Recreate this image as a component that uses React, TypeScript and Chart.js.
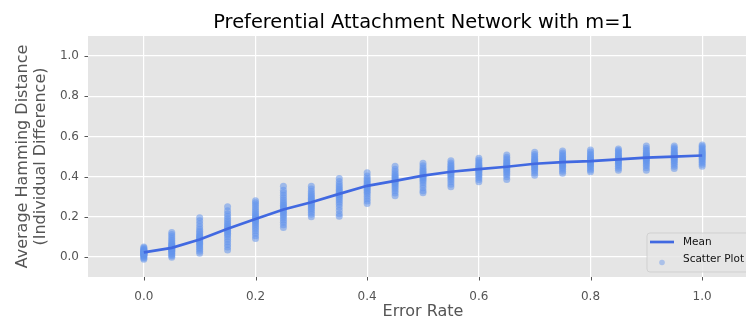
import React, { useEffect, useRef } from 'react';
import { Chart, registerables } from 'chart.js';

Chart.register(...registerables);

// Error rates at which the network was simulated
const errorRates = [0, 0.05, 0.1, 0.15, 0.2, 0.25, 0.3, 0.35, 0.4, 0.45, 0.5, 0.55, 0.6, 0.65, 0.7, 0.75, 0.8, 0.85, 0.9, 0.95, 1.0];

// Mean Hamming distance per error rate
const meanDistance = [0.023, 0.045, 0.087, 0.14, 0.189, 0.236, 0.272, 0.314, 0.354, 0.379, 0.405, 0.424, 0.437, 0.449, 0.464, 0.472, 0.477, 0.486, 0.494, 0.499, 0.505];

// Individual runs per error rate
const runs000 = [-0.012, -0.005, 0.0, 0.004, 0.008, 0.01, 0.012, 0.014, 0.016, 0.018, 0.02, 0.022, 0.024, 0.026, 0.028, 0.03, 0.033, 0.036, 0.04, 0.045, 0.05];
const runs005 = [-0.002, 0.006, 0.012, 0.018, 0.024, 0.028, 0.032, 0.036, 0.04, 0.043, 0.046, 0.05, 0.054, 0.058, 0.063, 0.068, 0.075, 0.083, 0.092, 0.102, 0.112, 0.122];
const runs010 = [0.018, 0.028, 0.038, 0.046, 0.054, 0.062, 0.068, 0.074, 0.08, 0.085, 0.09, 0.095, 0.1, 0.106, 0.112, 0.12, 0.128, 0.138, 0.15, 0.165, 0.18, 0.195];
const runs015 = [0.035, 0.05, 0.062, 0.075, 0.088, 0.1, 0.11, 0.118, 0.126, 0.133, 0.14, 0.147, 0.154, 0.162, 0.17, 0.18, 0.19, 0.202, 0.215, 0.23, 0.25];
const runs020 = [0.092, 0.105, 0.118, 0.13, 0.142, 0.152, 0.162, 0.17, 0.177, 0.184, 0.19, 0.196, 0.203, 0.21, 0.218, 0.227, 0.237, 0.248, 0.26, 0.27, 0.28];
const runs025 = [0.147, 0.16, 0.172, 0.184, 0.195, 0.205, 0.214, 0.222, 0.229, 0.236, 0.243, 0.25, 0.257, 0.265, 0.274, 0.284, 0.295, 0.307, 0.32, 0.332, 0.352];
const runs030 = [0.2, 0.212, 0.222, 0.232, 0.241, 0.249, 0.256, 0.262, 0.268, 0.274, 0.28, 0.286, 0.292, 0.299, 0.307, 0.316, 0.326, 0.338, 0.352];
const runs035 = [0.203, 0.215, 0.232, 0.248, 0.262, 0.274, 0.284, 0.293, 0.301, 0.308, 0.315, 0.322, 0.329, 0.336, 0.344, 0.353, 0.363, 0.375, 0.39];
const runs040 = [0.266, 0.278, 0.29, 0.302, 0.313, 0.322, 0.33, 0.337, 0.344, 0.35, 0.356, 0.362, 0.368, 0.375, 0.383, 0.392, 0.403, 0.419];
const runs045 = [0.305, 0.318, 0.33, 0.341, 0.35, 0.358, 0.365, 0.371, 0.377, 0.382, 0.388, 0.394, 0.4, 0.407, 0.415, 0.425, 0.437, 0.452];
const runs050 = [0.319, 0.33, 0.345, 0.358, 0.37, 0.38, 0.388, 0.395, 0.401, 0.407, 0.413, 0.419, 0.426, 0.434, 0.443, 0.454, 0.466];
const runs055 = [0.349, 0.362, 0.374, 0.385, 0.395, 0.403, 0.41, 0.416, 0.422, 0.427, 0.432, 0.438, 0.444, 0.451, 0.459, 0.468, 0.479];
const runs060 = [0.374, 0.385, 0.395, 0.404, 0.412, 0.419, 0.425, 0.43, 0.435, 0.44, 0.445, 0.451, 0.457, 0.464, 0.472, 0.481, 0.491];
const runs065 = [0.386, 0.399, 0.41, 0.419, 0.427, 0.434, 0.44, 0.445, 0.45, 0.455, 0.46, 0.466, 0.472, 0.479, 0.487, 0.496, 0.507];
const runs070 = [0.407, 0.418, 0.428, 0.436, 0.443, 0.449, 0.455, 0.46, 0.465, 0.47, 0.475, 0.48, 0.486, 0.493, 0.501, 0.51, 0.521];
const runs075 = [0.416, 0.427, 0.436, 0.444, 0.451, 0.457, 0.463, 0.468, 0.473, 0.478, 0.483, 0.488, 0.494, 0.501, 0.509, 0.517, 0.527];
const runs080 = [0.424, 0.433, 0.442, 0.45, 0.457, 0.463, 0.468, 0.473, 0.478, 0.483, 0.488, 0.493, 0.499, 0.506, 0.513, 0.522, 0.532];
const runs085 = [0.432, 0.442, 0.451, 0.459, 0.466, 0.472, 0.477, 0.482, 0.487, 0.492, 0.497, 0.502, 0.508, 0.515, 0.522, 0.53, 0.537];
const runs090 = [0.432, 0.444, 0.455, 0.464, 0.472, 0.479, 0.485, 0.49, 0.495, 0.5, 0.505, 0.51, 0.516, 0.523, 0.531, 0.541, 0.552];
const runs095 = [0.44, 0.451, 0.461, 0.47, 0.478, 0.484, 0.49, 0.495, 0.5, 0.505, 0.51, 0.515, 0.521, 0.528, 0.536, 0.544, 0.552];
const runs100 = [0.452, 0.461, 0.47, 0.478, 0.485, 0.491, 0.497, 0.502, 0.507, 0.512, 0.517, 0.522, 0.528, 0.535, 0.542, 0.55, 0.557];

const runsByRate = [runs000, runs005, runs010, runs015, runs020, runs025, runs030, runs035, runs040, runs045, runs050, runs055, runs060, runs065, runs070, runs075, runs080, runs085, runs090, runs095, runs100];

// Axis ticks
const xTicks = [0, 0.2, 0.4, 0.6, 0.8, 1.0];
const yTicks = [0, 0.2, 0.4, 0.6, 0.8, 1.0];

const titleText = 'Preferential Attachment Network with m=1';
const xLabel = 'Error Rate';
const yLabel = ['Average Hamming Distance', '(Individual Difference)'];
const legendLabels = ['Mean', 'Scatter Plot'];

const FONT = '"DejaVu Sans", sans-serif';
const CANVAS_W = 770;
const CANVAS_H = 325;
const PLOT_RIGHT = 758;
const LINE_COLOR = '#4169E1';
const DOT_COLOR = 'rgba(100, 149, 237, 0.55)';

const plotBackground = {
  id: 'plotBackground',
  beforeDraw(chart: any) {
    const { ctx, chartArea: a } = chart;
    ctx.save();
    ctx.fillStyle = '#E5E5E5';
    ctx.fillRect(a.left, a.top, a.right - a.left, a.bottom - a.top);
    ctx.restore();
  },
};

const decorations = {
  id: 'decorations',
  afterDraw(chart: any) {
    const { ctx, chartArea: a, scales } = chart;
    ctx.save();

    // title centred over the plot
    ctx.fillStyle = '#000';
    ctx.font = `19.4px ${FONT}`;
    ctx.textAlign = 'center';
    ctx.textBaseline = 'middle';
    ctx.fillText(titleText, (a.left + a.right) / 2, 23);

    // short outward tick marks
    ctx.strokeStyle = '#555';
    ctx.lineWidth = 1;
    xTicks.forEach((v) => {
      const px = Math.round(scales.x.getPixelForValue(v)) + 0.5;
      ctx.beginPath();
      ctx.moveTo(px, a.bottom);
      ctx.lineTo(px, a.bottom + 3.5);
      ctx.stroke();
    });
    yTicks.forEach((v) => {
      const py = Math.round(scales.y.getPixelForValue(v)) + 0.5;
      ctx.beginPath();
      ctx.moveTo(a.left - 3.5, py);
      ctx.lineTo(a.left, py);
      ctx.stroke();
    });

    // legend, lower right
    const bx = 647, by = 233, bw = a.right - 5 - 647, bh = a.bottom - 5 - 233;
    ctx.beginPath();
    ctx.roundRect(bx, by, bw, bh, 3);
    ctx.fillStyle = 'rgba(229,229,229,0.8)';
    ctx.fill();
    ctx.strokeStyle = 'rgba(204,204,204,0.8)';
    ctx.stroke();

    ctx.strokeStyle = LINE_COLOR;
    ctx.lineWidth = 2.7;
    ctx.beginPath();
    ctx.moveTo(650, 242);
    ctx.lineTo(674, 242);
    ctx.stroke();

    ctx.fillStyle = 'rgba(100, 149, 237, 0.45)';
    ctx.beginPath();
    ctx.arc(662, 262.5, 2.8, 0, Math.PI * 2);
    ctx.fill();

    ctx.fillStyle = '#111';
    ctx.font = `10.5px ${FONT}`;
    ctx.textAlign = 'left';
    ctx.textBaseline = 'middle';
    ctx.fillText(legendLabels[0], 683, 242);
    ctx.fillText(legendLabels[1], 683, 259);

    ctx.restore();
  },
};

export default function App() {
  const ref = useRef<HTMLCanvasElement>(null);

  useEffect(() => {
    const scatterPoints = errorRates.flatMap((x, i) => runsByRate[i].map((y) => ({ x, y })));
    const meanPoints = errorRates.map((x, i) => ({ x, y: meanDistance[i] }));

    const chart = new Chart(ref.current as HTMLCanvasElement, {
      type: 'scatter',
      data: {
        datasets: [
          {
            type: 'line',
            label: legendLabels[0],
            data: meanPoints,
            borderColor: LINE_COLOR,
            borderWidth: 2.7,
            pointRadius: 0,
            tension: 0,
            fill: false,
          } as any,
          {
            type: 'scatter',
            label: legendLabels[1],
            data: scatterPoints,
            backgroundColor: DOT_COLOR,
            borderWidth: 0,
            pointRadius: 3.5,
          },
        ],
      },
      options: {
        responsive: false,
        animation: false,
        devicePixelRatio: 1,
        layout: { padding: { top: 36, right: CANVAS_W - PLOT_RIGHT, left: 0, bottom: 0 } },
        plugins: {
          legend: { display: false },
          tooltip: { enabled: false },
          title: { display: false },
        },
        scales: {
          x: {
            type: 'linear',
            min: -0.1,
            max: 1.1,
            afterBuildTicks: (s: any) => {
              s.ticks = xTicks.map((value) => ({ value }));
            },
            afterFit: (s: any) => {
              s.height = 48;
            },
            grid: { color: '#ffffff', lineWidth: 1.2, drawTicks: false },
            border: { display: false },
            ticks: {
              color: '#555',
              font: { family: FONT, size: 12 },
              padding: 13,
              autoSkip: false,
              maxRotation: 0,
              callback: (v: any) => Number(v).toFixed(1),
            },
            title: {
              display: true,
              text: xLabel,
              color: '#555',
              font: { family: FONT, size: 16, lineHeight: 1.15 },
              padding: { top: 0, bottom: 4 },
            },
          },
          y: {
            type: 'linear',
            min: -0.1,
            max: 1.1,
            afterBuildTicks: (s: any) => {
              s.ticks = yTicks.map((value) => ({ value }));
            },
            afterFit: (s: any) => {
              s.width = 88;
            },
            grid: { color: '#ffffff', lineWidth: 1.2, drawTicks: false },
            border: { display: false },
            ticks: {
              color: '#555',
              font: { family: FONT, size: 12 },
              padding: 9,
              autoSkip: false,
              callback: (v: any) => Number(v).toFixed(1),
            },
            title: {
              display: true,
              text: yLabel,
              color: '#555',
              font: { family: FONT, size: 16, lineHeight: 1.15 },
              padding: { top: 13.3, bottom: 0 },
            },
          },
        },
      },
      plugins: [plotBackground, decorations],
    });

    return () => chart.destroy();
  }, []);

  return (
    <div
      style={{
        position: 'fixed',
        left: 0,
        top: 0,
        width: 746,
        height: 325,
        overflow: 'hidden',
        background: '#fff',
      }}
    >
      <canvas ref={ref} width={CANVAS_W} height={CANVAS_H} style={{ display: 'block', width: CANVAS_W, height: CANVAS_H }} />
    </div>
  );
}
